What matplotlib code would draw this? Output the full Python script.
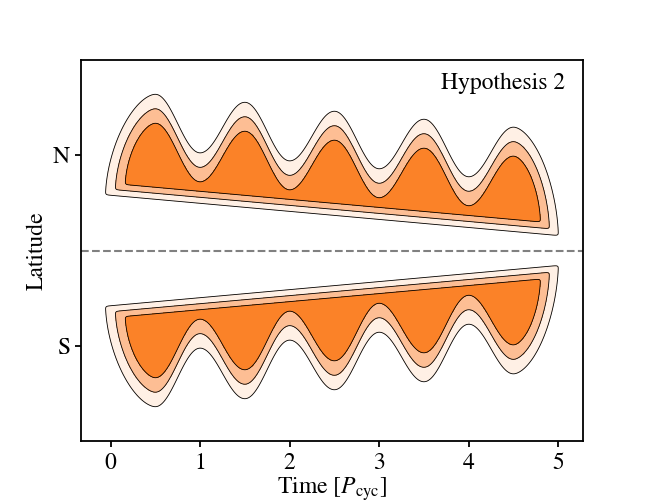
import numpy as np
import matplotlib.pyplot as plt

# 外层轮廓上边界的波峰 / 波谷（北半球，南半球是镜像）
peak_times = [0.5, 1.5, 2.5, 3.5, 4.5]
peak_lats = [1.641, 1.557, 1.463, 1.379, 1.296]
trough_times = [1.0, 2.0, 3.0, 4.0]
trough_lats = [1.024, 0.940, 0.857, 0.773]

# 下边界是一条直线
lower_times = [0.0, 5.0]
lower_lats = [0.580, 0.157]

# 外层轮廓的起止时间
start_time = -0.056
end_time = 5.0

# 每往里一层，各边界收缩的量
step_upper = 0.152
step_lower = 0.063
step_start = 0.11
step_end = 0.10

levels = [0, 1, 2, 5]
colors = ['#fff0e5', '#fdbe94', '#fb8228']

plt.rcParams['font.family'] = ['STIXGeneral', 'DejaVu Serif']
plt.rcParams['mathtext.fontset'] = 'stix'
plt.rcParams['font.size'] = 17
plt.rcParams['axes.linewidth'] = 1.3
plt.rcParams['xtick.major.size'] = 4.5
plt.rcParams['ytick.major.size'] = 4.5
plt.rcParams['xtick.major.width'] = 1.3
plt.rcParams['ytick.major.width'] = 1.3

ext = sorted(zip(peak_times + trough_times, peak_lats + trough_lats))
ext_t = np.array([e[0] for e in ext])
ext_v = np.array([e[1] for e in ext])


def upper_wave(t):
    i = np.clip(np.searchsorted(ext_t, t) - 1, 0, len(ext_t) - 2)
    t0, t1 = ext_t[i], ext_t[i + 1]
    v0, v1 = ext_v[i], ext_v[i + 1]
    s = np.clip((t - t0) / (t1 - t0), 0, 1)
    return v0 + (v1 - v0) * (1 - np.cos(np.pi * s)) / 2


def lower_line(t):
    a = (lower_lats[1] - lower_lats[0]) / (lower_times[1] - lower_times[0])
    return lower_lats[0] + a * (t - lower_times[0])


def edge_shape(s):
    # 两端的弧形（超椭圆的四分之一）
    s = np.clip(s, 0, 1)
    p = 1.7
    return (1 - (1 - s) ** p) ** (1 / p)


def inside(t, y, k):
    low = lower_line(t) + k * step_lower
    t_a = start_time + k * step_start
    t_b = end_time - k * step_end
    top = upper_wave(t) - k * step_upper

    s_left = (t - t_a) / (peak_times[0] - t_a)
    top_left = low + (peak_lats[0] - k * step_upper - low) * edge_shape(s_left)
    s_right = (t_b - t) / (t_b - peak_times[-1])
    top_right = low + (peak_lats[-1] - k * step_upper - low) * edge_shape(s_right)

    top = np.where(t < peak_times[0], top_left, top)
    top = np.where(t > peak_times[-1], top_right, top)
    return (y >= low) & (y <= top) & (t >= t_a) & (t <= t_b)


def smooth(a, sig, axis):
    # 轻微高斯平滑，让拐角圆一点
    n = int(3 * sig) + 1
    x = np.arange(-n, n + 1)
    w = np.exp(-x ** 2 / (2 * sig ** 2))
    w /= w.sum()
    pad = [(0, 0), (0, 0)]
    pad[axis] = (n, n)
    b = np.pad(a, pad, mode='edge')
    out = np.zeros_like(a)
    m = a.shape[axis]
    for j, wj in enumerate(w):
        out += wj * np.take(b, np.arange(j, j + m), axis=axis)
    return out


# 在网格上求每个点所在的层数（二分法）
tt = np.linspace(-0.35, 5.3, 1400)
yy = np.linspace(0.0, 2.0, 801)
T, Y = np.meshgrid(tt, yy)
lo = np.full(T.shape, -1.0)
hi = np.full(T.shape, 3.0)
for _ in range(28):
    mid = (lo + hi) / 2
    ok = inside(T, Y, mid)
    lo = np.where(ok, mid, lo)
    hi = np.where(ok, hi, mid)

lo = smooth(lo, 3.5, 1)
lo = smooth(lo, 5.0, 0)

# 南半球镜像
F = np.vstack([lo[:0:-1], lo])
Yfull = np.concatenate([-yy[:0:-1], yy])
Tfull, Yfull = np.meshgrid(tt, Yfull)

fig = plt.figure(figsize=(6.48, 5.04), dpi=100)
ax = fig.add_axes([81 / 648, 1 - 441 / 504, 501.5 / 648, 381 / 504])

ax.contourf(Tfull, Yfull, F, levels=levels, colors=colors)
ax.contour(Tfull, Yfull, F, levels=levels[:3], colors='k', linewidths=0.6)
ax.axhline(0, color='gray', ls='--', lw=1.5)

ax.set_xlim(-0.33, 5.27)
ax.set_ylim(-2, 2)
ax.set_xticks(range(6))
ax.set_yticks([-1, 1])
ax.set_yticklabels(['S', 'N'])
ax.set_xlabel(r'Time [$P_{\rm cyc}$]', labelpad=1)
ax.set_ylabel('Latitude')
ax.text(0.965, 0.924, 'Hypothesis 2', transform=ax.transAxes, ha='right', va='baseline')

plt.savefig('out.png', dpi=100)
